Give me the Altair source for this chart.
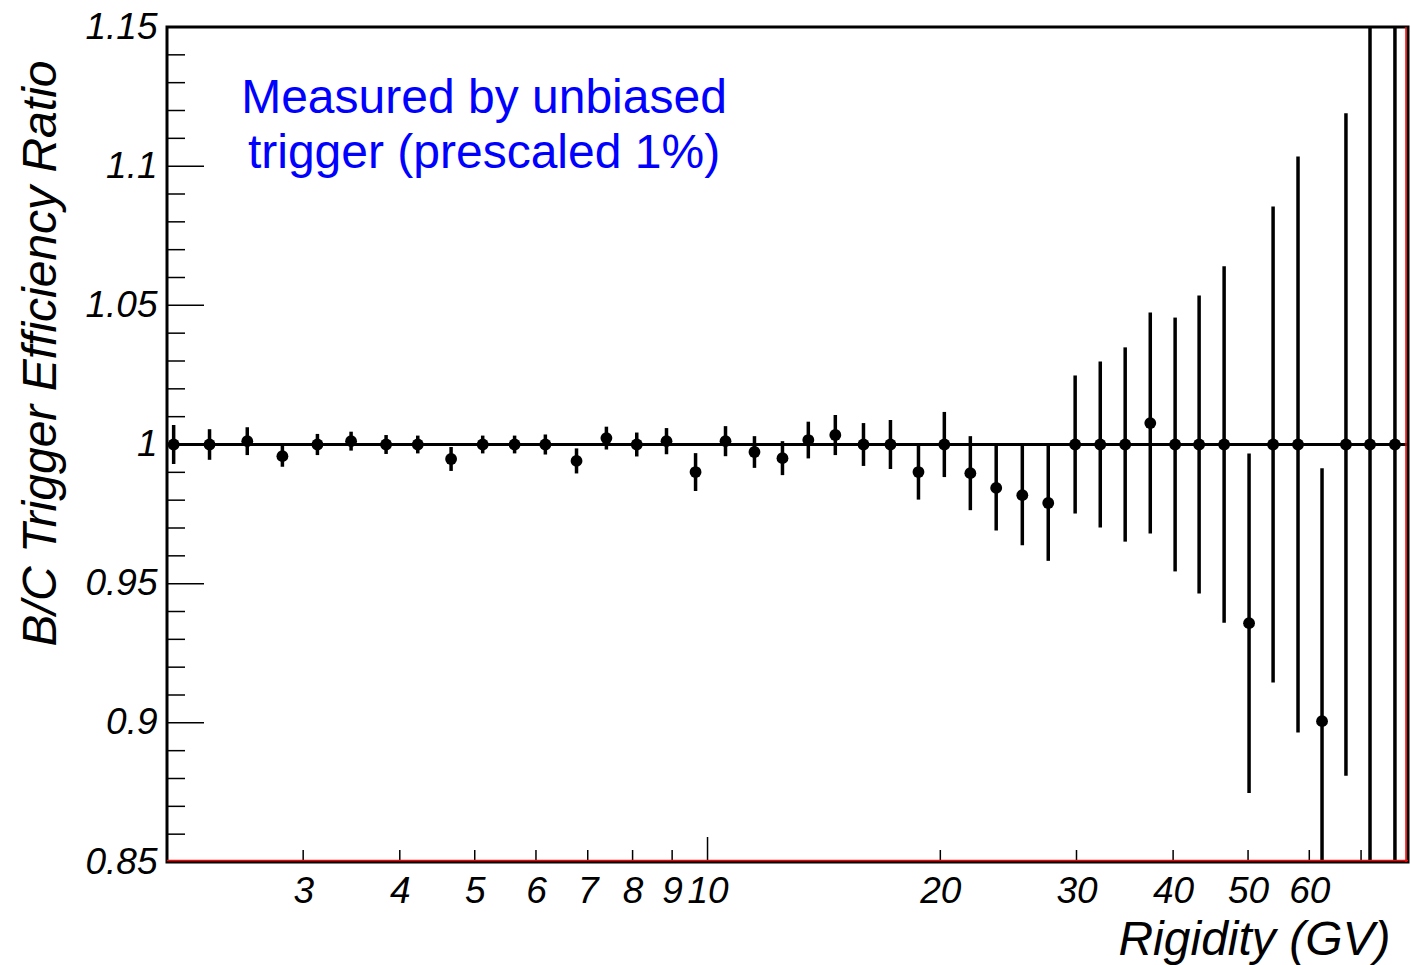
import altair as alt
import pandas as pd

# ---- data ----
rigidity = [2.04, 2.27, 2.54, 2.82, 3.13, 3.46, 3.84, 4.22, 4.66, 5.12,
            5.63, 6.17, 6.77, 7.40, 8.10, 8.85, 9.65, 10.55, 11.50, 12.50,
            13.50, 14.63, 15.91, 17.24, 18.74, 20.24, 21.87, 23.62, 25.53, 27.58,
            29.88, 32.20, 34.68, 37.37, 40.24, 43.22, 46.56, 50.15, 53.87, 58.02,
            62.32, 66.92, 71.89, 77.43]
ratio = [1.000, 1.000, 1.0012, 0.9958, 1.000, 1.0012, 1.000, 1.000, 0.9948, 1.000,
         1.000, 1.000, 0.9941, 1.0023, 1.000, 1.0012, 0.9901, 1.0012, 0.9973, 0.9951,
         1.0016, 1.0034, 1.000, 1.000, 0.9901, 1.000, 0.9897, 0.9844, 0.9818, 0.979,
         1.000, 1.000, 1.000, 1.0077, 1.000, 1.000, 1.000, 0.9358, 1.000, 1.000,
         0.9006, 1.000, 1.000, 1.000]
error = [0.007, 0.0055, 0.005, 0.0038, 0.0038, 0.0034, 0.0034, 0.0032, 0.0043, 0.0032,
         0.0032, 0.0036, 0.0045, 0.0041, 0.0043, 0.0047, 0.0068, 0.0054, 0.0057, 0.0061,
         0.0066, 0.0072, 0.0077, 0.0088, 0.0099, 0.0117, 0.0133, 0.0153, 0.018, 0.0208,
         0.0248, 0.0298, 0.0349, 0.0397, 0.0456, 0.0535, 0.064, 0.061, 0.0855, 0.1035,
         0.0909, 0.119, 0.25, 0.3]

x_label_values = [3, 4, 5, 6, 7, 8, 9, 10, 20, 30, 40, 50, 60]
x_minor_ticks = [3, 4, 5, 6, 7, 8, 9, 20, 30, 40, 50, 60, 70]
x_major_ticks = [10]
y_major = [0.85, 0.9, 0.95, 1.0, 1.05, 1.1, 1.15]
y_minor = [0.86, 0.87, 0.88, 0.89, 0.91, 0.92, 0.93, 0.94, 0.96, 0.97, 0.98, 0.99,
           1.01, 1.02, 1.03, 1.04, 1.06, 1.07, 1.08, 1.09, 1.11, 1.12, 1.13, 1.14]
reference_level = [1.0]

note_lines = ["Measured by unbiased", "trigger (prescaled 1%)"]
note_x = [5.14, 5.14]
note_y = [1.1191, 1.0993]

x_title = "Rigidity (GV)"
y_title = "B/C Trigger Efficiency Ratio"

# ---- tables ----
df = pd.DataFrame({"R": rigidity, "ratio": ratio, "err": error})
df["lo"] = df["ratio"] - df["err"]
df["hi"] = df["ratio"] + df["err"]

W, H = 1241, 835
FONT = "Liberation Sans"

xscale = alt.Scale(type="log", domain=[2.0, 80.5], nice=False)
yscale = alt.Scale(domain=[0.85, 1.15], nice=False, zero=False)

x_axis = alt.Axis(values=x_label_values, ticks=False, domain=False, grid=False,
                  labelFont=FONT, labelFontSize=37, labelFontStyle="italic",
                  labelColor="black", labelPadding=11, labelOverlap=False,
                  labelFlush=False, format="~g",
                  title=x_title, titleFont=FONT, titleFontSize=48,
                  titleFontStyle="italic", titleFontWeight="normal", titleColor="black",
                  titleAnchor="end", titleAlign="right", titleBaseline="alphabetic",
                  titleX=1223, titleY=92)
y_axis = alt.Axis(values=y_major, ticks=False, domain=False, grid=False,
                  labelFont=FONT, labelFontSize=37, labelFontStyle="italic",
                  labelColor="black", labelPadding=10, labelOverlap=False,
                  labelFlush=False, format="~g",
                  title=y_title, titleFont=FONT, titleFontSize=48,
                  titleFontStyle="italic", titleFontWeight="normal", titleColor="black",
                  titleAnchor="end", titleAlign="right", titleBaseline="alphabetic",
                  titleAngle=270, titleX=-112, titleY=33)


def X(field):
    return alt.X(field, scale=xscale, axis=x_axis, title=x_title)


def Y(field):
    return alt.Y(field, scale=yscale, axis=y_axis, title=y_title)


points = alt.Chart(df).mark_circle(size=140, color="black", opacity=1).encode(
    x=X("R:Q"), y=Y("ratio:Q"),
)

bars = alt.Chart(df).mark_rule(color="black", strokeWidth=3.5, clip=True).encode(
    x=X("R:Q"), y=Y("lo:Q"), y2="hi:Q",
)

level = alt.Chart(pd.DataFrame({"v": reference_level})).mark_rule(
    color="black", strokeWidth=3).encode(y=Y("v:Q"))

xt_minor = alt.Chart(pd.DataFrame({"R": x_minor_ticks})).mark_rule(
    color="black", strokeWidth=1.5).encode(
    x=X("R:Q"), y=alt.value(H), y2=alt.value(H - 12))
xt_major = alt.Chart(pd.DataFrame({"R": x_major_ticks})).mark_rule(
    color="black", strokeWidth=1.5).encode(
    x=X("R:Q"), y=alt.value(H), y2=alt.value(H - 25))

yt_major = alt.Chart(pd.DataFrame({"v": y_major})).mark_rule(
    color="black", strokeWidth=1.5).encode(
    y=Y("v:Q"), x=alt.value(0), x2=alt.value(37))
yt_minor = alt.Chart(pd.DataFrame({"v": y_minor})).mark_rule(
    color="black", strokeWidth=1.5).encode(
    y=Y("v:Q"), x=alt.value(0), x2=alt.value(18))

red_right = alt.Chart(pd.DataFrame({"v": reference_level})).mark_rule(
    color="red", strokeWidth=1.5).encode(
    x=alt.value(W - 2), y=alt.value(0), y2=alt.value(H))
red_bottom = alt.Chart(pd.DataFrame({"v": reference_level})).mark_rule(
    color="red", strokeWidth=1.5).encode(
    y=alt.value(H - 1.5), x=alt.value(0), x2=alt.value(W))

note = alt.Chart(pd.DataFrame({"t": note_lines, "R": note_x, "v": note_y})).mark_text(
    font=FONT, fontSize=48, color="#0000ff", align="center", baseline="alphabetic").encode(
    x=X("R:Q"), y=Y("v:Q"), text="t:N")

chart = alt.layer(
    points, level, bars, xt_minor, xt_major, yt_major, yt_minor,
    red_right, red_bottom, note
).properties(
    width=W, height=H,
    padding={"left": 167, "top": 27, "right": 3, "bottom": 103},
    autosize=alt.AutoSizeParams(type="none"),
    background="white",
).configure_view(stroke="black", strokeWidth=3)

chart.save("out.html", embed_options={"renderer": "svg", "actions": False})
